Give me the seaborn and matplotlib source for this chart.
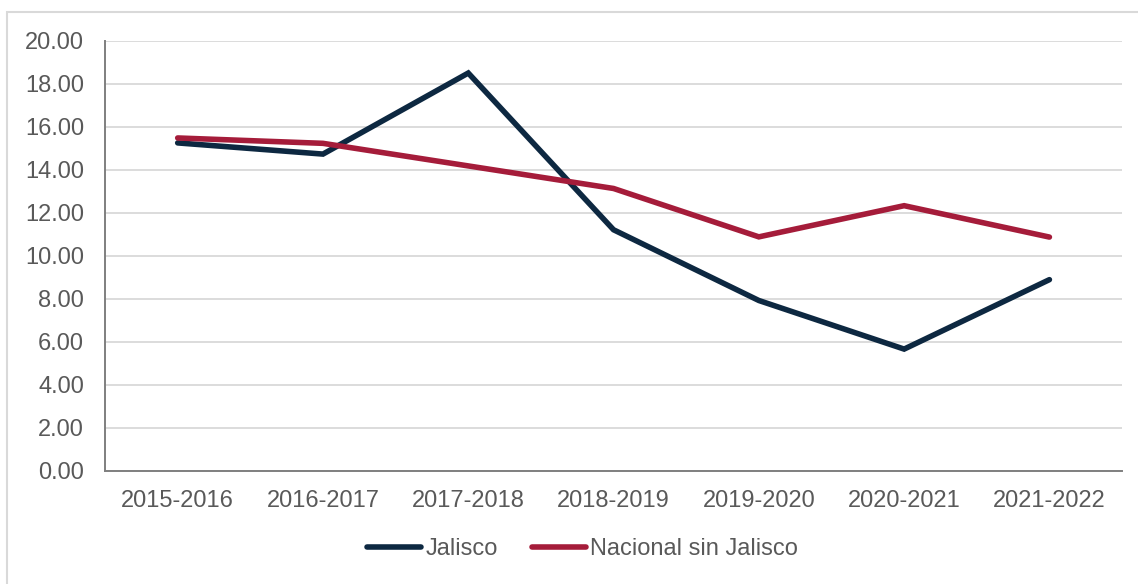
import numpy as np
import pandas as pd
import matplotlib
matplotlib.use("Agg")
import matplotlib.pyplot as plt
import seaborn as sns
from matplotlib.patches import Rectangle

# datos
periodos = ["2015-2016", "2016-2017", "2017-2018", "2018-2019",
            "2019-2020", "2020-2021", "2021-2022"]
jalisco = [15.26, 14.74, 18.51, 11.22, 7.93, 5.67, 8.90]
nacional = [15.49, 15.24, 14.19, 13.14, 10.89, 12.34, 10.88]

df = pd.DataFrame({
    "periodo": periodos * 2,
    "valor": jalisco + nacional,
    "serie": ["Jalisco"] * len(periodos) + ["Nacional sin Jalisco"] * len(periodos),
})

sns.set_style("white")
plt.rcParams['font.family'] = ['Liberation Sans', 'DejaVu Sans']

fig = plt.figure(figsize=(11.38, 5.84), dpi=100)
ax = fig.add_axes([0.0923, 0.1935, 0.8937, 0.7363])

gris = "#595959"
fs = 17
sns.lineplot(data=df, x="periodo", y="valor", hue="serie", ax=ax,
             palette=["#0D2841", "#A51C3A"], linewidth=4.0,
             sort=False, solid_capstyle="round", solid_joinstyle="miter")

ax.set_xlim(-0.5, len(periodos) - 0.5)
ax.set_ylim(0, 20)
ax.set_yticks(np.arange(0, 20.01, 2))
ax.set_yticklabels([f"{v:.2f}" for v in np.arange(0, 20.01, 2)])
ax.set_xlabel("")
ax.set_ylabel("")
ax.grid(axis="y", color="#D9D9D9", linewidth=1.3)
ax.set_axisbelow(True)

for s in ["top", "right"]:
    ax.spines[s].set_visible(False)
for s in ["left", "bottom"]:
    ax.spines[s].set_color("#7F7F7F")
    ax.spines[s].set_linewidth(1.4)

ax.tick_params(axis="both", colors="#7F7F7F", labelcolor=gris, labelsize=fs,
               width=1.2, direction="out")
ax.tick_params(axis="x", length=3.6, pad=10)
ax.tick_params(axis="y", length=5, pad=10)

ax.get_legend().remove()
h, l = ax.get_legend_handles_labels()
leg = fig.legend(h, l, loc="center", bbox_to_anchor=(0.512, 0.06), ncol=2,
                 frameon=False, fontsize=fs, handlelength=2.3,
                 handletextpad=0.17, columnspacing=1.45)
for t in leg.get_texts():
    t.set_color(gris)

# marco exterior
fig.patches.append(Rectangle((7 / 1138, -0.01), 1.02, 1 - 12 / 584 + 0.01,
                             transform=fig.transFigure, fill=False,
                             edgecolor="#D9D9D9", linewidth=1.5))

fig.savefig("out.png", dpi=100)
